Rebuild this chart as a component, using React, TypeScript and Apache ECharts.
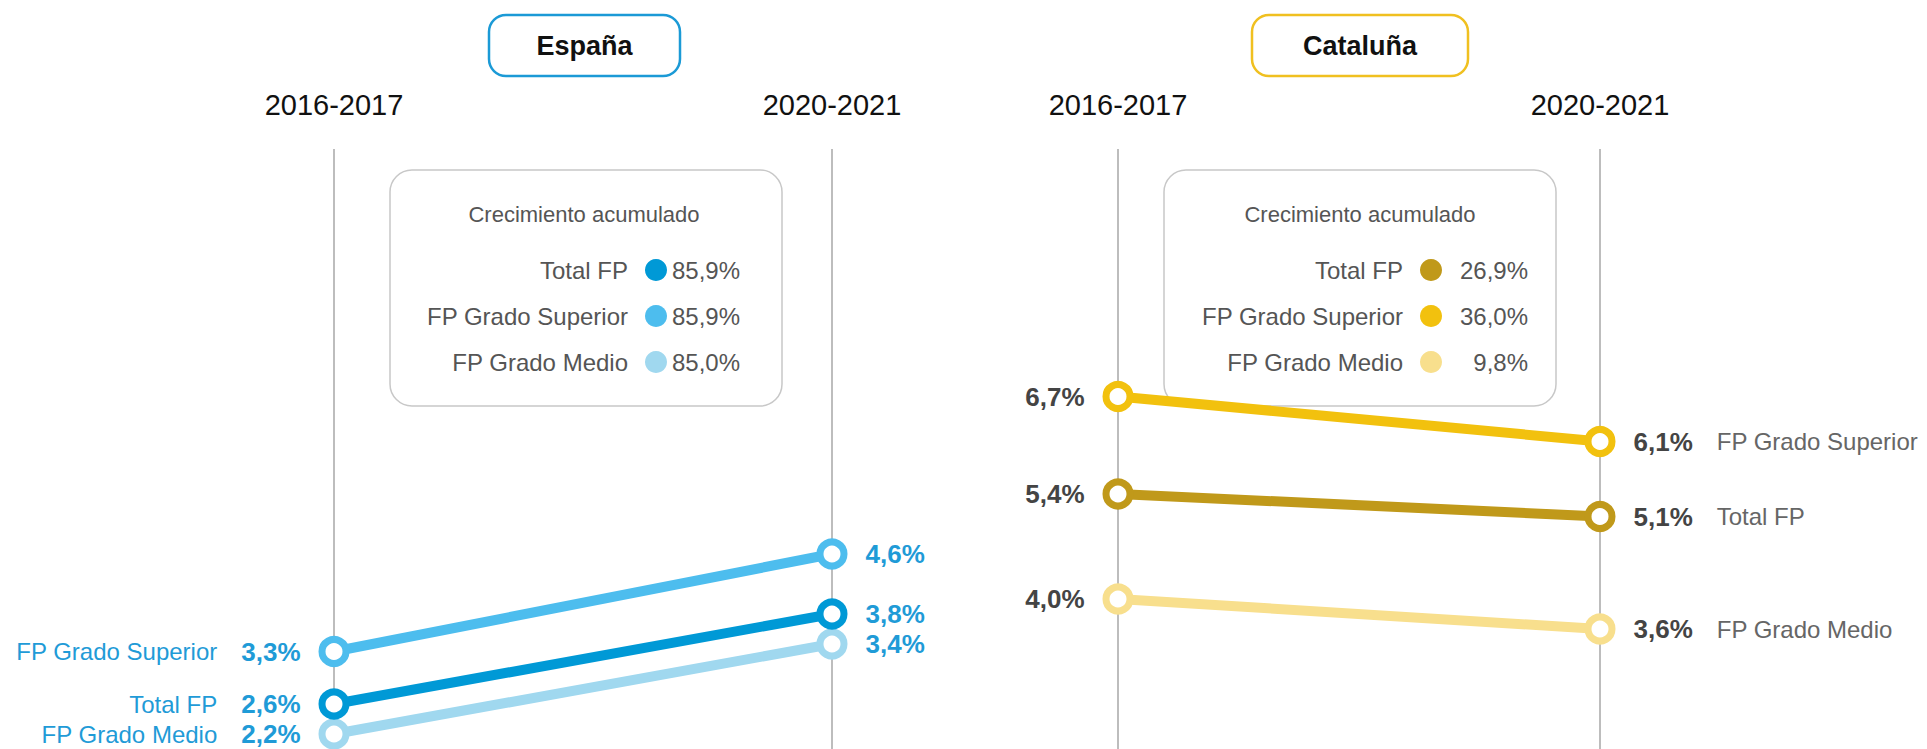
import React, { useEffect, useRef } from "react";
import * as echarts from "echarts";

const periods = ["2016-2017", "2020-2021"];
const seriesNames = ["Total FP", "FP Grado Superior", "FP Grado Medio"];

const espanaTotal = [2.6, 3.8];
const espanaSuperior = [3.3, 4.6];
const espanaMedio = [2.2, 3.4];

const catTotal = [5.4, 5.1];
const catSuperior = [6.7, 6.1];
const catMedio = [4.0, 3.6];

const espanaGrowth = [85.9, 85.9, 85.0];
const catGrowth = [26.9, 36.0, 9.8];

const espanaColors = ["#0099d6", "#4dbdee", "#a0d8ef"];
const catColors = ["#c0991a", "#f2c10e", "#f8df8d"];

const FONT = "'Liberation Sans', Arial, Helvetica, sans-serif";

const fmt = (v: number) => v.toFixed(1).replace(".", ",") + "%";

export default function App() {
  const ref = useRef<HTMLDivElement>(null);

  useEffect(() => {
    document.body.style.margin = "0";
    const chart = echarts.init(ref.current!, null, { renderer: "svg" });

    const blueText = "#1f9bd7";
    const valStyleBlue = { fontSize: 26, fontWeight: "bold", color: blueText, fontFamily: FONT };
    const nameStyleBlue = { fontSize: 24, color: blueText, fontFamily: FONT, padding: [0, 24, 0, 0] };
    const valStyleGrey = { fontSize: 26, fontWeight: "bold", color: "#444444", fontFamily: FONT };
    const nameStyleGrey = { fontSize: 24, color: "#666666", fontFamily: FONT, padding: [0, 0, 0, 24] };

    const espanaSeries = (name: string, data: number[], color: string, z: number) => ({
      type: "line",
      name,
      xAxisIndex: 0,
      yAxisIndex: 0,
      z,
      symbol: "circle",
      symbolSize: 24,
      lineStyle: { color, width: 10 },
      itemStyle: { color: "#ffffff", borderColor: color, borderWidth: 7 },
      data: [
        {
          value: data[0],
          label: {
            show: true,
            position: "left",
            distance: 18,
            formatter: "{n|" + name + "}{v|" + fmt(data[0]) + "}",
            rich: { n: nameStyleBlue, v: valStyleBlue },
          },
        },
        {
          value: data[1],
          label: {
            show: true,
            position: "right",
            distance: 18,
            formatter: "{v|" + fmt(data[1]) + "}",
            rich: { v: valStyleBlue },
          },
        },
      ],
    });

    const catSeries = (name: string, data: number[], color: string, z: number) => ({
      type: "line",
      name: name + " Cataluña",
      xAxisIndex: 1,
      yAxisIndex: 1,
      z,
      symbol: "circle",
      symbolSize: 24,
      lineStyle: { color, width: 10 },
      itemStyle: { color: "#ffffff", borderColor: color, borderWidth: 7 },
      data: [
        {
          value: data[0],
          label: {
            show: true,
            position: "left",
            distance: 18,
            formatter: "{v|" + fmt(data[0]) + "}",
            rich: { v: valStyleGrey },
          },
        },
        {
          value: data[1],
          label: {
            show: true,
            position: "right",
            distance: 18,
            formatter: "{v|" + fmt(data[1]) + "}{n|" + name + "}",
            rich: { v: valStyleGrey, n: nameStyleGrey },
          },
        },
      ],
    });

    const legendBox = (
      left: number,
      cx: number,
      labelRight: number,
      dotX: number,
      valRight: number,
      growth: number[],
      colors: string[]
    ) => {
      const els: any[] = [
        {
          type: "rect",
          shape: { x: left, y: 170, width: 392, height: 236, r: 22 },
          style: { fill: "#ffffff", stroke: "#c8c8c8", lineWidth: 1.5 },
          z: 0,
        },
        {
          type: "text",
          x: cx,
          y: 214,
          style: {
            text: "Crecimiento acumulado",
            fontSize: 22,
            fontFamily: FONT,
            fill: "#555555",
            align: "center",
            verticalAlign: "middle",
          },
          z: 1,
        },
      ];
      const rowsY = [270, 316, 362];
      seriesNames.forEach((n, i) => {
        els.push({
          type: "text",
          x: labelRight,
          y: rowsY[i],
          style: { text: n, fontSize: 24, fontFamily: FONT, fill: "#555555", align: "right", verticalAlign: "middle" },
          z: 1,
        });
        els.push({
          type: "circle",
          shape: { cx: dotX, cy: rowsY[i], r: 11 },
          style: { fill: colors[i] },
          z: 1,
        });
        els.push({
          type: "text",
          x: valRight,
          y: rowsY[i],
          style: { text: fmt(growth[i]), fontSize: 24, fontFamily: FONT, fill: "#555555", align: "right", verticalAlign: "middle" },
          z: 1,
        });
      });
      return els;
    };

    const titleBox = (x: number, w: number, text: string, stroke: string) => [
      {
        type: "rect",
        shape: { x, y: 15, width: w, height: 61, r: 17 },
        style: { fill: "#ffffff", stroke, lineWidth: 2.5 },
        z: 0,
      },
      {
        type: "text",
        x: x + w / 2,
        y: 46,
        style: { text, fontSize: 27, fontWeight: "bold", fontFamily: FONT, fill: "#111111", align: "center", verticalAlign: "middle" },
        z: 1,
      },
    ];

    const xAxisBase = (gridIndex: number) => ({
      type: "category",
      gridIndex,
      data: periods,
      boundaryGap: false,
      position: "top",
      axisLine: { show: false },
      axisTick: { show: false },
      axisLabel: { fontSize: 29, color: "#111111", fontFamily: FONT, margin: 30 },
      splitLine: { show: true, lineStyle: { color: "#bdbdbd", width: 2 } },
    });

    const yAxisBase = (gridIndex: number) => ({
      type: "value",
      gridIndex,
      min: 2,
      max: 10,
      show: false,
      splitLine: { show: false },
    });

    chart.setOption({
      animation: false,
      backgroundColor: "#ffffff",
      grid: [
        { left: 334, right: 1927 - 832, top: 149, bottom: 0 },
        { left: 1118, right: 1927 - 1600, top: 149, bottom: 0 },
      ],
      xAxis: [xAxisBase(0), xAxisBase(1)],
      yAxis: [yAxisBase(0), yAxisBase(1)],
      graphic: [
        ...titleBox(489, 191, "España", "#1b9ad6"),
        ...titleBox(1252, 216, "Cataluña", "#f0c020"),
        ...legendBox(390, 584, 628, 656, 740, espanaGrowth, espanaColors),
        ...legendBox(1164, 1360, 1403, 1431, 1528, catGrowth, catColors),
      ],
      series: [
        espanaSeries(seriesNames[2], espanaMedio, espanaColors[2], 2),
        espanaSeries(seriesNames[1], espanaSuperior, espanaColors[1], 3),
        espanaSeries(seriesNames[0], espanaTotal, espanaColors[0], 4),
        catSeries(seriesNames[2], catMedio, catColors[2], 2),
        catSeries(seriesNames[0], catTotal, catColors[0], 3),
        catSeries(seriesNames[1], catSuperior, catColors[1], 4),
      ],
    });

    return () => chart.dispose();
  }, []);

  return (
    <div
      ref={ref}
      style={{ position: "fixed", left: 0, top: 0, width: 1927, height: 749 }}
    />
  );
}
